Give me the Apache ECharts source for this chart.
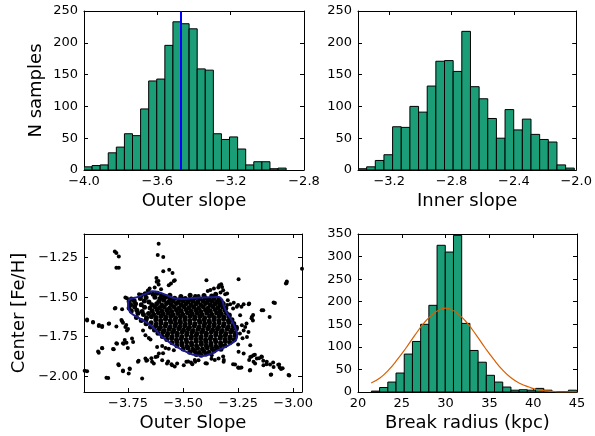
<!DOCTYPE html>
<html>
<head>
<meta charset="utf-8">
<script src="https://cdn.jsdelivr.net/npm/echarts@6/dist/echarts.min.js"></script>
<style>
  html, body { margin: 0; padding: 0; background: #fff; }
  #main { width: 595px; height: 436px; }
</style>
</head>
<body>
<div id="main"></div>
<script>
// histogram bins: first edge, bin width, counts
const outerStart = -4.0, outerWidth = 0.0441;
const outerCounts = [5, 7, 8, 27, 36, 57, 54, 96, 140, 143, 196, 233, 230, 222, 159, 157, 57, 48, 52, 33, 8, 13, 13, 2, 3];
const outerMedian = -3.47;

const innerStart = -3.40, innerWidth = 0.0555;
const innerCounts = [2, 5, 15, 24, 68, 67, 100, 91, 132, 171, 172, 155, 218, 131, 112, 81, 50, 95, 63, 80, 56, 48, 44, 8, 3];

const breakStart = 21.53, breakWidth = 0.937;
const breakCounts = [2, 10, 22, 42, 84, 112, 150, 192, 325, 310, 347, 152, 92, 66, 37, 22, 11, 4, 5, 4, 8, 4, 1, 1, 4];

// fitted curve
const fitX = [21.5, 22.5, 23.5, 24.5, 25.5, 26.5, 27.5, 28.5, 29.5, 30.0, 30.5, 31.5, 32.5, 33.5, 34.5, 35.5, 36.5, 37.5, 38.5, 39.5, 40.5, 41.5, 42.5, 43.5, 45.0];
const fitY = [20, 31, 49, 72, 98, 126, 152, 172, 184, 186, 184, 172, 152, 126, 98, 72, 49, 31, 19, 11, 5, 2.5, 1, 0.4, 0.1];

// tick labels
const outerTicks = [-4.0, -3.6, -3.2, -2.8];
const innerTicks = [-3.2, -2.8, -2.4, -2.0];
const countTicks = [0, 50, 100, 150, 200, 250];
const slopeTicks = [-3.75, -3.5, -3.25, -3.0];
const fehTicks = [-2.0, -1.75, -1.5, -1.25];
const radiusTicks = [20, 25, 30, 35, 40, 45];
const breakCountTicks = [0, 50, 100, 150, 200, 250, 300, 350];

// contour (outer slope vs [Fe/H])
const contour = [
  [-3.750, -1.529], [-3.742, -1.513], [-3.705, -1.498], [-3.667, -1.477], [-3.640, -1.463],
  [-3.606, -1.471], [-3.576, -1.487], [-3.538, -1.506], [-3.492, -1.511], [-3.439, -1.504],
  [-3.379, -1.500], [-3.336, -1.499], [-3.322, -1.519], [-3.316, -1.550], [-3.303, -1.595],
  [-3.280, -1.645], [-3.266, -1.685], [-3.254, -1.740], [-3.260, -1.772], [-3.300, -1.810],
  [-3.340, -1.835], [-3.370, -1.857], [-3.412, -1.872], [-3.458, -1.863], [-3.500, -1.836],
  [-3.548, -1.798], [-3.600, -1.745], [-3.645, -1.680], [-3.690, -1.640], [-3.738, -1.598],
  [-3.750, -1.561], [-3.750, -1.529]
];

// scattered points away from the core
const scatterOuter = [
  [-3.611, -1.162], [-3.810, -1.210], [-3.803, -1.220], [-3.792, -1.243], [-3.803, -1.313], [-3.792, -1.313],
  [-3.615, -1.233], [-3.590, -1.246], [-3.590, -1.336], [-3.563, -1.326], [-3.548, -1.347], [-3.621, -1.378],
  [-3.538, -1.393], [-3.611, -1.420], [-3.565, -1.424], [-3.652, -1.445], [-3.629, -1.439], [-3.542, -1.397],
  [-3.555, -1.414], [-3.620, -1.402], [-3.612, -1.398], [-3.394, -1.393], [-3.336, -1.424], [-3.323, -1.435],
  [-3.318, -1.456], [-3.360, -1.445], [-3.340, -1.439], [-3.388, -1.460], [-3.327, -1.418], [-3.309, -1.481],
  [-3.300, -1.477], [-3.297, -1.519], [-3.286, -1.544], [-3.256, -1.561], [-3.225, -1.544], [-3.200, -1.540],
  [-3.143, -1.582], [-3.089, -1.533], [-3.248, -1.387], [-3.033, -1.414], [-3.029, -1.401], [-2.957, -1.319],
  [-3.445, -1.492], [-3.430, -1.492], [-3.762, -1.502], [-3.755, -1.506], [-3.807, -1.569], [-3.777, -1.576],
  [-3.810, -1.571], [-3.780, -1.645], [-3.773, -1.662], [-3.758, -1.676], [-3.750, -1.701], [-3.836, -1.666],
  [-3.936, -1.647], [-3.909, -1.657], [-3.883, -1.683], [-3.868, -1.689], [-3.838, -1.668], [-3.803, -1.685],
  [-3.777, -1.653], [-3.762, -1.689], [-3.755, -1.710], [-3.682, -1.710], [-3.671, -1.741], [-3.656, -1.758],
  [-3.648, -1.767], [-3.732, -1.762], [-3.727, -1.783], [-3.800, -1.794], [-3.770, -1.794], [-3.757, -1.788],
  [-3.751, -1.821], [-3.868, -1.821], [-3.883, -1.851], [-3.815, -1.829], [-3.618, -1.815], [-3.595, -1.809],
  [-3.580, -1.821], [-3.565, -1.826], [-3.542, -1.836], [-3.610, -1.857], [-3.625, -1.878], [-3.641, -1.909],
  [-3.633, -1.920], [-3.595, -1.899], [-3.573, -1.920], [-3.550, -1.930], [-3.527, -1.920], [-3.485, -1.909],
  [-3.464, -1.913], [-3.497, -1.930], [-3.671, -1.888], [-3.705, -1.909], [-3.663, -1.899], [-3.951, -1.920],
  [-3.936, -1.968], [-3.792, -1.930], [-3.773, -1.968], [-3.743, -1.952], [-3.747, -1.983], [-3.848, -2.010],
  [-3.686, -2.015], [-3.591, -1.855], [-3.568, -1.907], [-3.553, -1.924], [-3.538, -1.939], [-3.477, -1.907],
  [-3.458, -1.924], [-3.447, -1.897], [-3.398, -1.918], [-3.371, -1.890], [-3.356, -1.897], [-3.318, -1.876],
  [-3.315, -1.897], [-3.445, -1.909], [-3.430, -1.899], [-3.392, -1.920], [-3.339, -1.888], [-3.316, -1.909],
  [-3.370, -1.867], [-3.241, -1.615], [-3.188, -1.626], [-3.183, -1.647], [-3.107, -1.626], [-3.233, -1.678],
  [-3.218, -1.689], [-3.225, -1.710], [-3.203, -1.720], [-3.210, -1.752], [-3.195, -1.804], [-3.248, -1.846],
  [-3.225, -1.857], [-3.195, -1.878], [-3.180, -1.867], [-3.165, -1.888], [-3.142, -1.878], [-3.180, -1.909],
  [-3.173, -1.920], [-3.135, -1.930], [-3.120, -1.909], [-3.105, -1.926], [-3.089, -1.941], [-3.064, -1.926],
  [-3.055, -1.955], [-3.100, -1.989], [-3.021, -1.993], [-3.195, -1.961], [-3.264, -1.926], [-3.248, -1.947],
  [-3.241, -1.947], [-2.956, -2.020], [-3.300, -1.550], [-3.273, -1.571], [-3.250, -1.550], [-3.235, -1.561],
  [-3.202, -1.544], [-3.182, -1.613], [-3.189, -1.634], [-3.212, -1.666], [-3.136, -1.582], [-3.083, -1.536],
  [-3.242, -1.729], [-3.230, -1.760], [-3.250, -1.800], [-3.273, -1.924], [-3.250, -1.945], [-3.235, -1.945],
  [-3.197, -1.964], [-3.200, -1.897], [-3.189, -1.876], [-3.174, -1.865], [-3.155, -1.886], [-3.144, -1.876],
  [-3.136, -1.903], [-3.121, -1.924], [-3.091, -1.914], [-3.068, -1.928], [-3.061, -1.945], [-3.048, -1.949],
  [-3.018, -1.995], [-3.102, -1.991], [-2.958, -2.002], [-3.702, -1.903], [-3.667, -1.903], [-3.644, -1.886],
  [-3.617, -1.876], [-3.886, -1.844], [-3.867, -1.823], [-3.818, -1.828], [-3.803, -1.792], [-3.773, -1.792],
  [-3.765, -1.771], [-3.794, -1.924], [-3.773, -1.964], [-3.742, -1.954], [-3.840, -2.012], [-3.947, -1.966],
  [-3.909, -1.660], [-3.936, -1.641], [-3.882, -1.676], [-3.867, -1.683], [-3.030, -1.410], [-2.960, -1.320],
  [-3.270, -1.535], [-3.330, -1.470], [-3.376, -1.455], [-3.600, -1.450], [-3.660, -1.458], [-3.700, -1.482]
];

// dense core inside the contour
const scatterCore = [
  [-3.690, -1.488], [-3.672, -1.478], [-3.655, -1.470], [-3.636, -1.482], [-3.617, -1.475], [-3.598, -1.490],
  [-3.578, -1.497], [-3.560, -1.488], [-3.510, -1.495], [-3.468, -1.488], [-3.442, -1.498], [-3.405, -1.490],
  [-3.370, -1.493], [-3.352, -1.482],
  [-3.735, -1.512], [-3.694, -1.508], [-3.668, -1.502], [-3.628, -1.500], [-3.605, -1.508], [-3.584, -1.503],
  [-3.560, -1.512], [-3.538, -1.506], [-3.515, -1.515], [-3.490, -1.508], [-3.470, -1.514], [-3.448, -1.506],
  [-3.425, -1.512], [-3.400, -1.505], [-3.382, -1.515], [-3.360, -1.508], [-3.338, -1.513],
  [-3.745, -1.528], [-3.722, -1.522], [-3.676, -1.524], [-3.655, -1.530], [-3.610, -1.528], [-3.588, -1.520],
  [-3.566, -1.530], [-3.545, -1.524], [-3.522, -1.530], [-3.500, -1.522], [-3.478, -1.530], [-3.456, -1.525],
  [-3.434, -1.530], [-3.410, -1.522], [-3.390, -1.530], [-3.368, -1.524], [-3.346, -1.530], [-3.328, -1.522],
  [-3.738, -1.548], [-3.716, -1.542], [-3.690, -1.547], [-3.642, -1.548], [-3.620, -1.542], [-3.597, -1.550],
  [-3.575, -1.540], [-3.553, -1.547], [-3.530, -1.540], [-3.508, -1.548], [-3.487, -1.542], [-3.464, -1.550],
  [-3.442, -1.543], [-3.420, -1.548], [-3.398, -1.540], [-3.376, -1.547], [-3.354, -1.542], [-3.333, -1.550],
  [-3.318, -1.540],
  [-3.745, -1.568], [-3.720, -1.562], [-3.675, -1.563], [-3.650, -1.568], [-3.628, -1.560], [-3.607, -1.567],
  [-3.585, -1.562], [-3.562, -1.570], [-3.540, -1.563], [-3.518, -1.568], [-3.496, -1.560], [-3.474, -1.567],
  [-3.452, -1.562], [-3.430, -1.570], [-3.408, -1.562], [-3.386, -1.568], [-3.364, -1.560], [-3.342, -1.567],
  [-3.320, -1.562], [-3.306, -1.570],
  [-3.735, -1.588], [-3.710, -1.582], [-3.686, -1.590], [-3.640, -1.588], [-3.618, -1.580], [-3.596, -1.587],
  [-3.574, -1.582], [-3.552, -1.590], [-3.530, -1.583], [-3.508, -1.588], [-3.486, -1.580], [-3.464, -1.587],
  [-3.442, -1.582], [-3.420, -1.590], [-3.398, -1.582], [-3.376, -1.588], [-3.354, -1.580], [-3.332, -1.587],
  [-3.310, -1.582],
  [-3.705, -1.602], [-3.680, -1.610], [-3.657, -1.603], [-3.634, -1.608], [-3.612, -1.600], [-3.590, -1.607],
  [-3.568, -1.602], [-3.546, -1.610], [-3.524, -1.603], [-3.502, -1.608], [-3.480, -1.600], [-3.458, -1.607],
  [-3.436, -1.602], [-3.414, -1.610], [-3.392, -1.602], [-3.370, -1.608], [-3.348, -1.600], [-3.326, -1.607],
  [-3.303, -1.602], [-3.290, -1.612],
  [-3.712, -1.628], [-3.666, -1.630], [-3.644, -1.623], [-3.622, -1.628], [-3.600, -1.620], [-3.578, -1.627],
  [-3.556, -1.622], [-3.534, -1.630], [-3.512, -1.623], [-3.490, -1.628], [-3.468, -1.620], [-3.446, -1.627],
  [-3.424, -1.622], [-3.402, -1.630], [-3.380, -1.622], [-3.358, -1.628], [-3.336, -1.620], [-3.314, -1.627],
  [-3.292, -1.622],
  [-3.690, -1.648], [-3.668, -1.642], [-3.624, -1.643], [-3.602, -1.648], [-3.580, -1.640], [-3.558, -1.647],
  [-3.536, -1.642], [-3.514, -1.650], [-3.492, -1.643], [-3.470, -1.648], [-3.448, -1.640], [-3.426, -1.647],
  [-3.404, -1.642], [-3.382, -1.650], [-3.360, -1.642], [-3.338, -1.648], [-3.316, -1.640], [-3.294, -1.647],
  [-3.278, -1.642],
  [-3.668, -1.668], [-3.645, -1.662], [-3.622, -1.670], [-3.600, -1.663], [-3.578, -1.668], [-3.556, -1.660],
  [-3.534, -1.667], [-3.512, -1.662], [-3.490, -1.670], [-3.468, -1.663], [-3.446, -1.668], [-3.424, -1.660],
  [-3.402, -1.667], [-3.380, -1.662], [-3.358, -1.670], [-3.336, -1.662], [-3.314, -1.668], [-3.292, -1.660],
  [-3.270, -1.667],
  [-3.648, -1.688], [-3.625, -1.682], [-3.603, -1.690], [-3.581, -1.683], [-3.559, -1.688], [-3.537, -1.680],
  [-3.515, -1.687], [-3.493, -1.682], [-3.471, -1.690], [-3.449, -1.683], [-3.427, -1.688], [-3.405, -1.680],
  [-3.383, -1.687], [-3.361, -1.682], [-3.339, -1.690], [-3.317, -1.682], [-3.295, -1.688], [-3.273, -1.680],
  [-3.258, -1.690],
  [-3.630, -1.708], [-3.608, -1.702], [-3.586, -1.710], [-3.564, -1.703], [-3.542, -1.708], [-3.520, -1.700],
  [-3.498, -1.707], [-3.476, -1.702], [-3.454, -1.710], [-3.432, -1.703], [-3.410, -1.708], [-3.388, -1.700],
  [-3.366, -1.707], [-3.344, -1.702], [-3.322, -1.710], [-3.300, -1.702], [-3.278, -1.708], [-3.258, -1.700],
  [-3.614, -1.728], [-3.592, -1.722], [-3.570, -1.730], [-3.548, -1.723], [-3.526, -1.728], [-3.504, -1.720],
  [-3.482, -1.727], [-3.460, -1.722], [-3.438, -1.730], [-3.416, -1.723], [-3.394, -1.728], [-3.372, -1.720],
  [-3.350, -1.727], [-3.328, -1.722], [-3.306, -1.730], [-3.284, -1.722], [-3.262, -1.728],
  [-3.594, -1.748], [-3.572, -1.742], [-3.550, -1.750], [-3.528, -1.743], [-3.506, -1.748], [-3.484, -1.740],
  [-3.462, -1.747], [-3.440, -1.742], [-3.418, -1.750], [-3.396, -1.743], [-3.374, -1.748], [-3.352, -1.740],
  [-3.330, -1.747], [-3.308, -1.742], [-3.286, -1.750], [-3.264, -1.742],
  [-3.574, -1.768], [-3.552, -1.762], [-3.530, -1.770], [-3.508, -1.763], [-3.486, -1.768], [-3.464, -1.760],
  [-3.442, -1.767], [-3.420, -1.762], [-3.398, -1.770], [-3.376, -1.763], [-3.354, -1.768], [-3.332, -1.760],
  [-3.310, -1.767], [-3.288, -1.762], [-3.268, -1.770],
  [-3.550, -1.788], [-3.528, -1.782], [-3.506, -1.790], [-3.484, -1.783], [-3.462, -1.788], [-3.440, -1.780],
  [-3.418, -1.787], [-3.396, -1.782], [-3.374, -1.790], [-3.352, -1.782], [-3.330, -1.788], [-3.308, -1.780],
  [-3.288, -1.787],
  [-3.528, -1.808], [-3.505, -1.802], [-3.483, -1.810], [-3.461, -1.803], [-3.439, -1.808], [-3.417, -1.800],
  [-3.395, -1.807], [-3.373, -1.802], [-3.351, -1.810], [-3.329, -1.802], [-3.310, -1.808],
  [-3.500, -1.828], [-3.478, -1.822], [-3.456, -1.830], [-3.434, -1.823], [-3.412, -1.828], [-3.390, -1.820],
  [-3.368, -1.827], [-3.346, -1.822], [-3.328, -1.830],
  [-3.470, -1.848], [-3.448, -1.842], [-3.426, -1.850], [-3.404, -1.843], [-3.382, -1.848], [-3.360, -1.840],
  [-3.440, -1.862], [-3.418, -1.868], [-3.396, -1.860]
];

const FONT = 'DejaVu Sans';

function bins(start, width, counts) {
  return counts.map((c, i) => [start + i * width, start + (i + 1) * width, c]);
}

function minus(v, digits) {
  return v.toFixed(digits).replace('-', '\u2212');
}

function renderBin(params, api) {
  const p0 = api.coord([api.value(0), api.value(2)]);
  const p1 = api.coord([api.value(1), 0]);
  return {
    type: 'rect',
    shape: { x: p0[0], y: p0[1], width: p1[0] - p0[0], height: p1[1] - p0[1] },
    style: { fill: '#1b9e77', stroke: '#000', lineWidth: 1 }
  };
}

const lineStyle = { color: '#000', width: 1 };

function axisPair(kind, grid, min, max, ticks, digits, name, nameGap) {
  const main = {
    type: 'value', gridIndex: grid, min: min, max: max,
    position: kind === 'x' ? 'bottom' : 'left',
    axisLine: { show: true, onZero: false, lineStyle: lineStyle },
    axisTick: { show: true, inside: true, length: 4, customValues: ticks, lineStyle: lineStyle },
    axisLabel: {
      show: true, customValues: ticks, color: '#000', fontFamily: FONT, fontSize: 13,
      margin: kind === 'x' ? 5 : 6,
      formatter: v => minus(v, digits)
    },
    splitLine: { show: false },
    name: name, nameLocation: 'middle', nameGap: nameGap,
    nameTextStyle: { color: '#000', fontFamily: FONT, fontSize: 18 }
  };
  const mirror = {
    type: 'value', gridIndex: grid, min: min, max: max,
    position: kind === 'x' ? 'top' : 'right',
    axisLine: { show: true, onZero: false, lineStyle: lineStyle },
    axisTick: { show: true, inside: true, length: 4, customValues: ticks, lineStyle: lineStyle },
    axisLabel: { show: false },
    splitLine: { show: false }
  };
  return [main, mirror];
}

const chart = echarts.init(document.getElementById('main'), null, { renderer: 'canvas' });

const option = {
  animation: false,
  backgroundColor: '#fff',
  grid: [
    { left: 84, top: 11, width: 220, height: 159 },
    { left: 358, top: 11, width: 220, height: 159 },
    { left: 84, top: 234, width: 218, height: 158 },
    { left: 358, top: 234, width: 219, height: 158 }
  ],
  xAxis: [
    ...axisPair('x', 0, -4.0, -2.8, outerTicks, 1, 'Outer slope', 22),
    ...axisPair('x', 1, -3.4, -2.0, innerTicks, 1, 'Inner slope', 22),
    ...axisPair('x', 2, -3.95, -2.96, slopeTicks, 2, 'Outer Slope', 22),
    ...axisPair('x', 3, 20, 45, radiusTicks, 0, 'Break radius (kpc)', 22)
  ],
  yAxis: [
    ...axisPair('y', 0, 0, 250, countTicks, 0, 'N samples', 39),
    ...axisPair('y', 1, 0, 250, countTicks, 0, '', 30),
    ...axisPair('y', 2, -2.1, -1.1, fehTicks, 2, 'Center [Fe/H]', 56),
    ...axisPair('y', 3, 0, 350, breakCountTicks, 0, '', 30)
  ],
  series: [
    {
      type: 'custom', xAxisIndex: 0, yAxisIndex: 0, clip: true,
      renderItem: renderBin, encode: { x: [0, 1], y: 2 },
      data: bins(outerStart, outerWidth, outerCounts),
      markLine: {
        silent: true, symbol: 'none', label: { show: false },
        lineStyle: { color: '#0000ff', width: 2, type: 'solid' },
        data: [{ xAxis: outerMedian }]
      }
    },
    {
      type: 'custom', xAxisIndex: 2, yAxisIndex: 2, clip: true,
      renderItem: renderBin, encode: { x: [0, 1], y: 2 },
      data: bins(innerStart, innerWidth, innerCounts)
    },
    {
      type: 'scatter', xAxisIndex: 4, yAxisIndex: 4,
      symbolSize: 4, itemStyle: { color: '#000', opacity: 1 },
      data: scatterOuter
    },
    {
      type: 'scatter', xAxisIndex: 4, yAxisIndex: 4,
      symbolSize: 5, itemStyle: { color: '#000', opacity: 1 },
      data: scatterCore
    },
    {
      type: 'line', xAxisIndex: 4, yAxisIndex: 4, z: 5,
      data: contour, smooth: 0.35, showSymbol: false,
      lineStyle: { color: '#1c1c8c', width: 2 }
    },
    {
      type: 'custom', xAxisIndex: 6, yAxisIndex: 6, clip: true,
      renderItem: renderBin, encode: { x: [0, 1], y: 2 },
      data: bins(breakStart, breakWidth, breakCounts)
    },
    {
      type: 'line', xAxisIndex: 6, yAxisIndex: 6,
      data: fitX.map((x, i) => [x, fitY[i]]), smooth: true, showSymbol: false,
      lineStyle: { color: '#d95f02', width: 1.2 }
    }
  ]
};

chart.setOption(option);
</script>
</body>
</html>
